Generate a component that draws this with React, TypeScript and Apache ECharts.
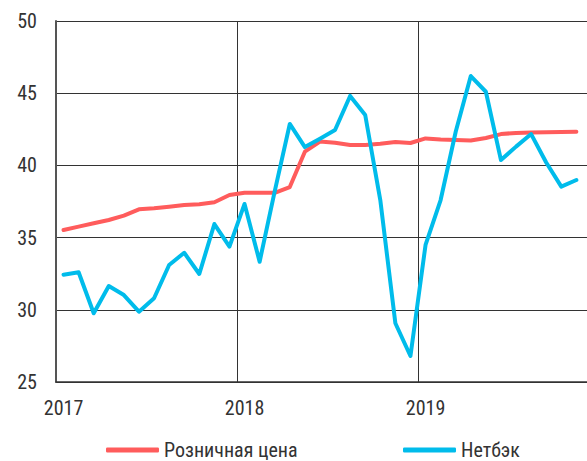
import React, { useEffect, useRef } from "react";
import * as echarts from "echarts";

const categories: string[] = [
  "2017-01", "2017-02", "2017-03", "2017-04", "2017-05", "2017-06",
  "2017-07", "2017-08", "2017-09", "2017-10", "2017-11", "2017-12",
  "2018-01", "2018-02", "2018-03", "2018-04", "2018-05", "2018-06",
  "2018-07", "2018-08", "2018-09", "2018-10", "2018-11", "2018-12",
  "2019-01", "2019-02", "2019-03", "2019-04", "2019-05", "2019-06",
  "2019-07", "2019-08", "2019-09", "2019-10", "2019-11", "2019-12",
];

const yearLabels: string[] = ["2017", "2018", "2019"];

const retailPrice: (number | null)[] = [
  35.53, 35.76, 35.99, 36.22, 36.52, 36.96, 37.03, 37.14, 37.26, 37.31, 37.45, 37.95,
  38.1, 38.1, 38.1, 38.5, 40.95, 41.65, 41.57, 41.41, 41.41, 41.5, 41.62, 41.55,
  41.87, 41.8, 41.76, 41.72, 41.9, 42.17, 42.25, 42.27, 42.3, 42.32, 42.33, null,
];

const netback: (number | null)[] = [
  32.43, 32.6, 29.76, 31.65, 31.02, 29.87, 30.8, 33.1, 33.95, 32.48, 35.94, 34.37,
  37.33, 33.33, 38.2, 42.87, 41.27, 41.85, 42.45, 44.81, 43.49, 37.6, 29.07, 26.8,
  34.49, 37.6, 42.33, 46.19, 45.1, 40.37, 41.3, 42.17, 40.2, 38.53, 38.99, null,
];

const seriesNames = ["Розничная цена", "Нетбэк"];
const colors = ["#FF5C5C", "#00BCEB"];

const FONT = "'Liberation Sans Narrow', 'Roboto Condensed', 'Liberation Sans', sans-serif";

export default function App() {
  const ref = useRef<HTMLDivElement>(null);
  useEffect(() => {
    if (!ref.current) return;
    const chart = echarts.init(ref.current, undefined, { renderer: "svg" });
    const every12 = (i: number) => i % 12 === 0;
    const legendBase = {
      top: 440,
      padding: 0,
      icon: "roundRect",
      itemWidth: 53,
      itemHeight: 5,
      textStyle: { fontFamily: FONT, fontSize: 20, color: "#333" },
    };
    chart.setOption({
      animation: false,
      grid: {
        left: 56,
        top: 21,
        height: 361,
        width: 543,
        containLabel: false,
        outerBoundsMode: "none",
      },
      legend: [
        { ...legendBase, data: [seriesNames[0]], left: 106 },
        { ...legendBase, data: [seriesNames[1]], left: 403 },
      ],
      xAxis: {
        type: "category",
        data: categories,
        boundaryGap: true,
        axisLine: { show: true, lineStyle: { color: "#333", width: 1.5 } },
        axisTick: { show: false },
        axisLabel: {
          interval: every12,
          formatter: (v: string) => yearLabels[categories.indexOf(v) / 12] ?? "",
          fontFamily: FONT,
          fontSize: 20,
          color: "#333",
          margin: 16,
        },
        splitLine: {
          show: true,
          interval: every12,
          lineStyle: { color: "#333", width: 1 },
        },
      },
      yAxis: {
        type: "value",
        min: 25,
        max: 50,
        interval: 5,
        axisLine: { show: true, lineStyle: { color: "#555", width: 2 } },
        axisTick: { show: false },
        axisLabel: {
          fontFamily: FONT,
          fontSize: 20,
          color: "#333",
          margin: 19,
        },
        splitLine: { show: true, lineStyle: { color: "#333", width: 1 } },
      },
      series: [
        {
          name: seriesNames[0],
          type: "line",
          data: retailPrice,
          showSymbol: false,
          color: colors[0],
          lineStyle: { width: 4, color: colors[0], cap: "round", join: "round" },
        },
        {
          name: seriesNames[1],
          type: "line",
          data: netback,
          showSymbol: false,
          color: colors[1],
          lineStyle: { width: 4, color: colors[1], cap: "round", join: "round" },
        },
      ],
    });
    return () => chart.dispose();
  }, []);
  return (
    <div
      ref={ref}
      style={{ position: "fixed", left: 0, top: 0, width: 587, height: 461, background: "#fff" }}
    />
  );
}
